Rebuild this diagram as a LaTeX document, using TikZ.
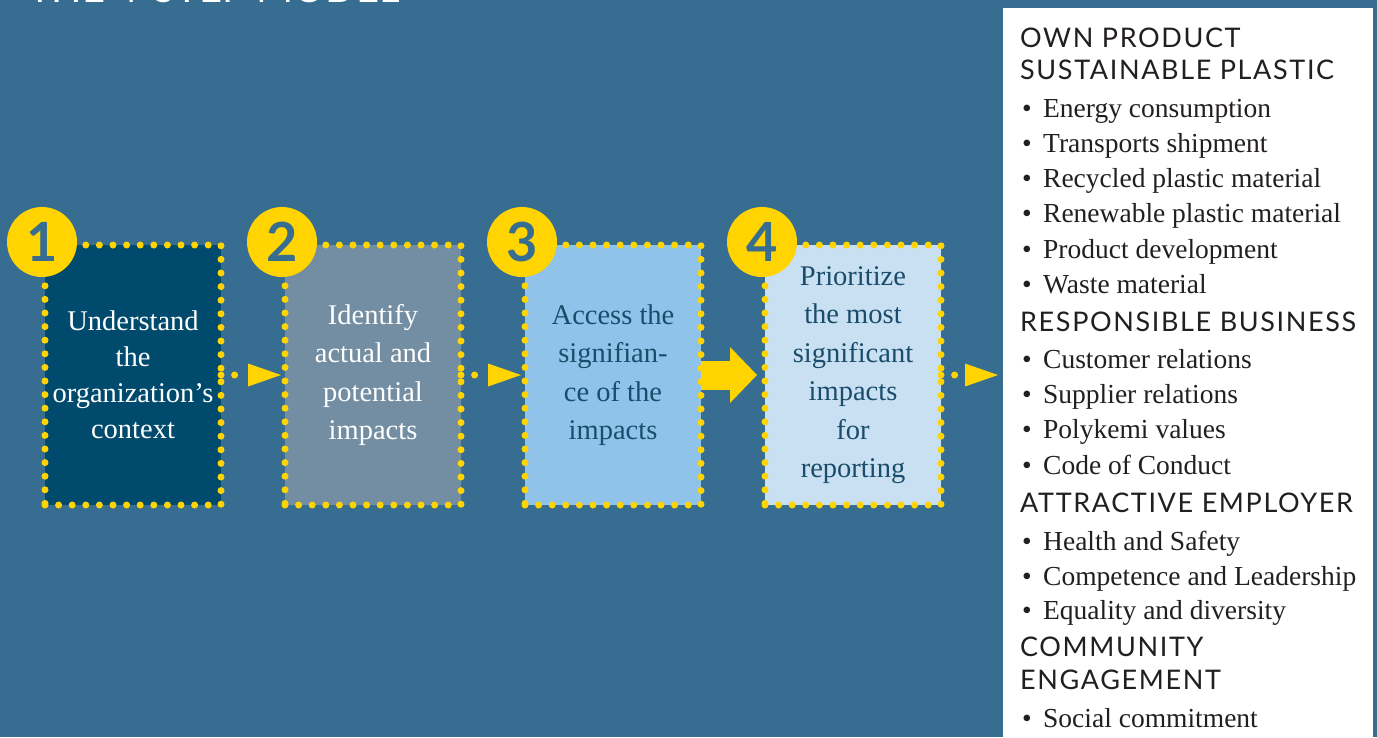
\documentclass[tikz,border=0pt]{standalone}
\usepackage{fontspec}
\setmainfont{Liberation Serif}
\newfontfamily\headfont{Lato}
\usetikzlibrary{positioning,arrows.meta}
\definecolor{bgblue}{RGB}{54,109,144}
\definecolor{stepA}{RGB}{0,75,109}
\definecolor{stepB}{RGB}{115,142,162}
\definecolor{stepC}{RGB}{143,195,233}
\definecolor{stepD}{RGB}{201,224,243}
\definecolor{dotyellow}{RGB}{255,212,0}
\definecolor{inkblue}{RGB}{26,76,107}
\definecolor{listink}{RGB}{35,31,32}

\begin{document}
\begin{tikzpicture}[x=1pt,y=-1pt,
	stepbox/.style={rectangle, minimum width=176pt, minimum height=260pt, align=center,
		inner sep=0pt, outer sep=0pt, font=\fontsize{28.5}{38.5}\selectfont,
		draw=dotyellow, line width=7pt, line cap=round, dash pattern=on 0pt off 13.6pt},
	numdisc/.style={circle, fill=dotyellow, minimum size=70pt, inner sep=0pt,
		text=bgblue, font=\headfont\bfseries\fontsize{54}{54}\selectfont},
	dotlink/.style={draw=dotyellow, line width=7pt, line cap=round, dash pattern=on 0pt off 13.6pt,
		-{Triangle[length=33pt,width=23pt,line width=0pt]}, shorten >=4pt},
	bigarrow/.style={draw=dotyellow, line width=29pt,
		-{Triangle[length=27pt,width=56pt,line width=0pt]}, shorten >=8pt},
	head/.style={anchor=base west, inner sep=0pt, text=listink,
		font=\headfont\addfontfeature{LetterSpace=6}\fontsize{27}{27}\selectfont},
	item/.style={anchor=base west, inner sep=0pt, text=listink, font=\fontsize{27.5}{27.5}\selectfont}]

\useasboundingbox (0,0) rectangle (1377,737);
\clip (0,0) rectangle (1377,737);
\fill[bgblue] (0,0) rectangle (1377,737);

\node[anchor=base west, inner sep=0pt, text=white, font=\headfont\fontsize{40}{40}\selectfont] (title) at (28,2) {THE 4-STEP MODEL};

% the four steps
\node[stepbox, fill=stepA, text=white, font=\fontsize{28.5}{36}\selectfont] (box1) at (133,375)
	{Understand\\the\\organization's\\context};
\node[stepbox, fill=stepB, text=white, right=64pt of box1] (box2)
	{Identify\\actual and\\potential\\impacts};
\node[stepbox, fill=stepC, text=inkblue, right=64pt of box2] (box3)
	{Access the\\signifian-\\ce of the\\impacts};
\node[stepbox, fill=stepD, text=inkblue, right=64pt of box3] (box4)
	{Prioritize\\the most\\significant\\impacts\\for\\reporting};

\foreach \i in {1,...,4}
	\node[numdisc] (num\i) at ([shift={(-3,-3)}]box\i.north west) {\i};

% right panel
\node[fill=white, anchor=north west, minimum width=370pt, minimum height=740pt, inner sep=0pt] (panel) at (1003,8) {};

\draw[dotlink] (box1.east) -- (box2.west);
\draw[dotlink] (box2.east) -- (box3.west);
\draw[bigarrow] (box3.east) -- (box4.west);
\draw[dotlink, shorten >=5pt] (box4.east) -- (box4.east -| panel.west);

\foreach \yb/\txt [count=\i] in {47/OWN PRODUCT, 79/SUSTAINABLE PLASTIC, 331/RESPONSIBLE BUSINESS,
	512/ATTRACTIVE EMPLOYER, 656/COMMUNITY, 689/ENGAGEMENT}
	\node[head] (head\i) at (1020,\yb) {\txt};

\foreach \yb/\txt [count=\i] in {117/Energy consumption, 152/Transports shipment,
	187/Recycled plastic material, 222/Renewable plastic material, 258/Product development,
	293/Waste material, 368/Customer relations, 403/Supplier relations, 438/Polykemi values,
	474/Code of Conduct, 550/Health and Safety, 585/Competence and Leadership,
	619/Equality and diversity, 727/Social commitment}
	\node[item] (item\i) at (1022,\yb) {\makebox[21pt][l]{\textbullet}\txt};
\end{tikzpicture}
\end{document}
